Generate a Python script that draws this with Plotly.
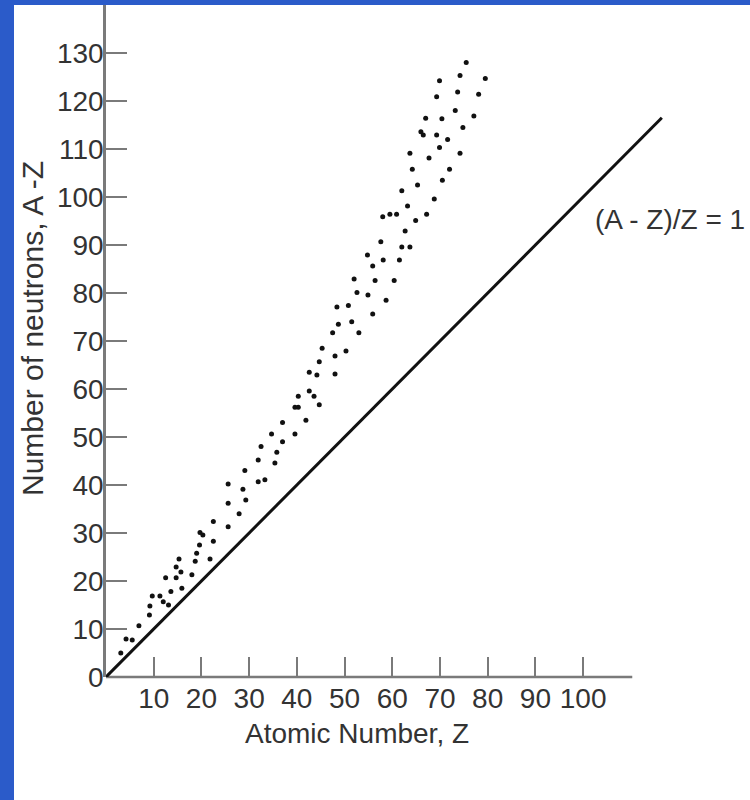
import plotly.graph_objects as go

# ---- data ----
atomic_number_z = [
    6.9, 4.2, 5.5, 3.1, 9.1, 9.2, 9.7, 11.3, 12.0, 13.1, 13.6, 12.5, 14.7, 14.7, 15.7, 15.9,
    15.3, 18.0, 18.7, 19.0, 19.6, 19.7, 20.3, 21.8, 22.5, 22.5, 25.6, 27.9, 25.6, 29.3, 28.7,
    25.6, 31.9, 33.3, 29.1, 31.9, 35.4, 32.5, 35.8, 34.7, 37.0, 39.6, 37.0, 41.9, 39.6, 40.3,
    44.7, 40.3, 43.6, 42.6, 42.6, 44.2, 48.0, 44.7, 48.0, 45.3, 50.3, 47.5, 53.0, 48.7, 51.5,
    48.4, 50.8, 55.9, 52.6, 54.9, 58.7, 52.0, 56.4, 60.4, 55.9, 54.8, 58.1, 61.5, 62.0, 63.7,
    57.6, 62.7, 58.0, 59.5, 60.9, 67.2, 64.9, 63.2, 68.8, 62.0, 65.3, 70.5, 72.0, 64.2, 67.7,
    63.7, 74.2, 69.9, 71.6, 69.3, 66.0, 66.5, 74.8, 70.4, 67.0, 77.1, 73.2, 69.3, 78.1, 73.7,
    69.9, 79.5, 74.2, 75.5,
]
neutrons_n = [
    10.7, 7.9, 7.7, 5.0, 12.9, 14.8, 16.9, 16.9, 15.7, 15.0, 17.8, 20.7, 20.7, 22.9, 21.9, 18.5,
    24.6, 21.3, 24.1, 25.8, 27.5, 30.1, 29.6, 24.6, 28.3, 32.4, 31.3, 34.0, 36.2, 36.9, 39.1,
    40.2, 40.7, 41.1, 43.0, 45.2, 44.6, 48.0, 46.8, 50.6, 49.0, 50.6, 53.0, 53.5, 56.2, 56.2,
    56.7, 58.5, 58.5, 59.6, 63.5, 62.9, 63.1, 65.7, 66.9, 68.5, 67.9, 71.7, 71.7, 73.5, 74.0,
    77.1, 77.4, 75.6, 80.1, 79.6, 78.5, 82.9, 82.6, 82.6, 85.6, 87.9, 86.9, 86.9, 89.6, 89.6,
    90.7, 92.9, 95.9, 96.4, 96.4, 96.4, 95.1, 98.1, 99.6, 101.3, 102.5, 103.5, 105.8, 105.8, 108.1,
    109.1, 109.1, 110.3, 112.0, 112.9, 113.6, 112.9, 114.5, 116.3, 116.4, 116.9, 118.0, 120.9, 121.4, 121.9,
    124.2, 124.7, 125.3, 128.0,
]
line_z = [0, 116.5]          # (A - Z)/Z = 1  ->  N = Z
line_n = [0, 116.5]
x_tick_vals = [10, 20, 30, 40, 50, 60, 70, 80, 90, 100]
y_tick_vals = [0, 10, 20, 30, 40, 50, 60, 70, 80, 90, 100, 110, 120, 130]
x_axis_end = 110.3

x_title = "Atomic Number, Z"
y_title = "Number of neutrons, A -Z"
line_label = "(A - Z)/Z = 1"

# ---- layout constants (pixels) ----
W, H = 750, 800
ML, MR, MT, MB = 106, 81, 5, 123
PW, PH = W - ML - MR, H - MT - MB
BLUE = "#2b5bc9"
AXIS_GRAY = "#7a7a7a"
TEXT = "#333333"
FONT = "Liberation Sans, Arial, sans-serif"
FS = 28


def px_x(p):
    return (p - ML) / PW


def px_y(p):
    return (H - MB - p) / PH


fig = go.Figure()
fig.add_trace(go.Scatter(
    x=line_z, y=line_n, mode="lines",
    line=dict(color="#111111", width=3), hoverinfo="skip", showlegend=False,
))
fig.add_trace(go.Scatter(
    x=atomic_number_z, y=neutrons_n, mode="markers",
    marker=dict(color="#111111", size=5, line=dict(width=0)),
    showlegend=False, cliponaxis=False,
))

fig.update_layout(
    width=W, height=H,
    margin=dict(l=ML, r=MR, t=MT, b=MB, pad=0),
    paper_bgcolor="white", plot_bgcolor="white",
    font=dict(family=FONT, size=FS, color=TEXT),
    xaxis=dict(
        range=[0, 118], showgrid=False, zeroline=False, showline=False,
        tickmode="array", tickvals=x_tick_vals, ticktext=[str(v) for v in x_tick_vals],
        ticks="inside", ticklen=20, tickwidth=2, tickcolor=AXIS_GRAY,
        tickfont=dict(family=FONT, size=FS, color=TEXT), ticklabelstandoff=2,
    ),
    yaxis=dict(
        range=[0, 140], showgrid=False, zeroline=False,
        showline=True, linecolor=AXIS_GRAY, linewidth=2.5,
        tickmode="array", tickvals=y_tick_vals, ticktext=[str(v) for v in y_tick_vals],
        ticks="inside", ticklen=21, tickwidth=2, tickcolor=AXIS_GRAY,
        tickfont=dict(family=FONT, size=FS, color=TEXT), ticklabelstandoff=-6,
    ),
    showlegend=False,
)

# x axis line (stops at Z ~ 110 while the reference line continues beyond)
fig.add_shape(type="line", xref="x", yref="paper", x0=0, x1=x_axis_end, y0=0, y1=0,
              line=dict(color=AXIS_GRAY, width=2.5), layer="below")

# blue frame of the slide
fig.add_shape(type="rect", xref="paper", yref="paper",
              x0=px_x(0), x1=px_x(14), y0=px_y(H), y1=px_y(0),
              fillcolor=BLUE, line=dict(width=0), layer="above")
fig.add_shape(type="rect", xref="paper", yref="paper",
              x0=px_x(0), x1=px_x(W), y0=px_y(5), y1=px_y(0),
              fillcolor=BLUE, line=dict(width=0), layer="above")

fig.add_annotation(text=x_title, xref="paper", yref="paper",
                   x=px_x(357), y=px_y(733), xanchor="center", yanchor="middle",
                   showarrow=False, font=dict(family=FONT, size=FS, color=TEXT))
fig.add_annotation(text=y_title, xref="paper", yref="paper", textangle=-90,
                   x=px_x(33), y=px_y(329), xanchor="center", yanchor="middle",
                   showarrow=False, font=dict(family=FONT, size=30, color=TEXT))
fig.add_annotation(text=line_label, xref="paper", yref="paper",
                   x=px_x(670), y=px_y(219), xanchor="center", yanchor="middle",
                   showarrow=False, font=dict(family=FONT, size=FS, color=TEXT))

fig.write_html("out.html", config={"displayModeBar": False},
               post_script="document.body.style.margin='0';")
